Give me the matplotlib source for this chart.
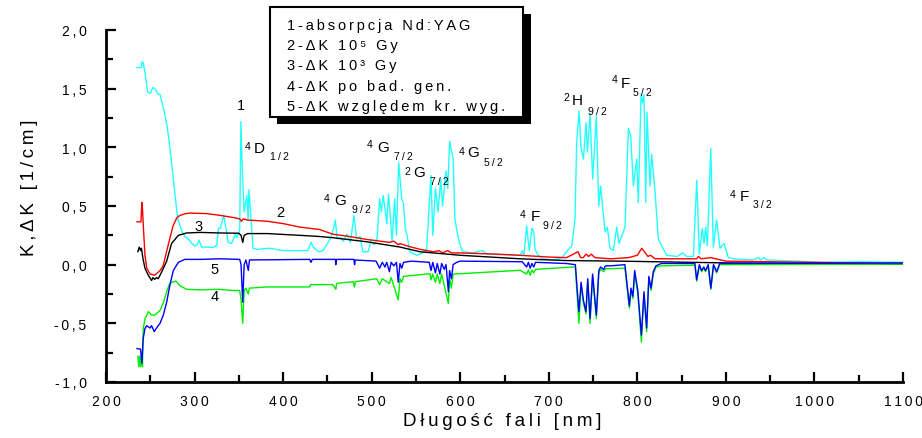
import matplotlib
matplotlib.use("Agg")
import matplotlib.pyplot as plt
from matplotlib.patches import Rectangle
from matplotlib.ticker import MultipleLocator, FuncFormatter

FONT = ["Liberation Sans", "DejaVu Sans"]
plt.rcParams["font.family"] = FONT

# ---- spectra: wavelength [nm] and coefficient [1/cm] ----
abs_nm = [235, 240, 240.6, 242, 244, 247, 250, 253, 255, 257, 259, 261, 265, 269, 271, 274.5,
          278, 281, 286, 289, 293, 297, 300, 303, 305, 308, 314, 320, 325, 327, 329, 333, 338,
          342, 346, 348, 351, 352.3, 353.5, 356, 359, 360.5, 361.5, 363.5, 366, 370, 385, 400,
          428, 431.5, 434, 440, 445, 451, 455, 459, 461, 465, 468, 472, 476, 480, 483, 487,
          490, 496, 499, 503, 506, 509, 511, 513, 516, 517, 519, 521, 523, 526, 528, 530.5,
          534, 536, 538, 540, 543, 551, 555, 562, 567, 569, 572, 575, 578, 580, 584, 586, 588,
          592, 594, 596, 600, 603, 614, 625, 630, 668, 670, 672, 675, 678, 681, 683, 684.5,
          688, 693, 705, 715, 720, 726, 729.6, 731.5, 734.2, 736.4, 739.1, 742.1, 743.6, 746.6,
          749.6, 753.7, 756.4, 758.6, 763.5, 766.1, 769.1, 772.9, 776.7, 779.3, 786.1, 789.9,
          792.5, 795.5, 799.3, 801.1, 804.2, 806, 807.5, 809.5, 810.9, 814.3, 816.2, 820,
          823.7, 827.5, 833.2, 845, 851.2, 855.7, 863.3, 867.1, 870, 873.4, 875.3, 877.2,
          879.1, 882.9, 885.8, 889.6, 893.4, 897.9, 902.8, 908.4, 930, 936.6, 939, 943, 946,
          980, 1006, 1050, 1100]
abs_val = [1.68, 1.68, 1.73, 1.72, 1.64, 1.47, 1.46, 1.51, 1.50, 1.48, 1.45, 1.45, 1.33, 1.18,
           1.07, 0.84, 0.59, 0.39, 0.28, 0.24, 0.22, 0.18, 0.16, 0.17, 0.21, 0.15, 0.15, 0.145,
           0.16, 0.31, 0.31, 0.42, 0.19, 0.18, 0.26, 0.23, 0.30, 1.22, 0.90, 0.45, 0.59, 0.39,
           0.64, 0.42, 0.14, 0.13, 0.14, 0.12, 0.12, 0.19, 0.15, 0.11, 0.12, 0.19, 0.25, 0.38,
           0.22, 0.23, 0.20, 0.26, 0.19, 0.42, 0.22, 0.24, 0.11, 0.11, 0.20, 0.17, 0.22, 0.56,
           0.45, 0.59, 0.42, 0.35, 0.60, 0.42, 0.20, 0.56, 0.25, 0.87, 0.56, 0.52, 0.30, 0.25,
           0.11, 0.08, 0.09, 0.12, 0.76, 0.25, 0.65, 0.45, 0.73, 0.50, 0.80, 0.65, 1.05, 0.90,
           0.39, 0.30, 0.16, 0.11, 0.10, 0.12, 0.09, 0.08, 0.12, 0.08, 0.33, 0.12, 0.31, 0.28,
           0.13, 0.08, 0.05, 0.04, 0.06, 0.11, 0.16, 0.39, 1.04, 1.31, 1.00, 0.90, 1.21, 0.96,
           1.28, 0.73, 1.27, 0.50, 0.67, 0.28, 0.32, 0.14, 0.12, 0.32, 0.18, 0.32, 1.16, 1.10,
           0.67, 0.90, 0.53, 1.45, 1.38, 1.45, 0.53, 1.30, 0.67, 0.94, 0.62, 0.22, 0.16, 0.08,
           0.07, 0.10, 0.07, 0.07, 0.72, 0.09, 0.31, 0.18, 0.32, 0.16, 0.99, 0.15, 0.38, 0.14,
           0.18, 0.06, 0.05, 0.04, 0.06, 0.04, 0.06, 0.04, 0.03, 0.02, 0.025, 0.02]

dk5_nm = [235, 239.5, 240.5, 241.3, 242, 244, 246, 249.7, 255, 258, 261, 264.5, 270, 275.7,
          280, 283.5, 290, 295, 314, 329, 345, 351, 353, 355, 360, 382, 400, 419, 441, 456,
          475, 494.5, 510, 520, 525, 530, 532, 540, 555, 570, 576, 580, 586, 590, 600, 640,
          667, 700, 720, 733, 736, 739, 742, 745, 748, 752, 770, 790, 800, 805, 808, 812, 815,
          820, 867, 869, 872, 883, 900, 1000, 1100]
dk5_val = [0.365, 0.365, 0.53, 0.46, 0.35, 0.08, -0.03, -0.08, -0.09, -0.07, -0.05, -0.01,
           0.16, 0.33, 0.40, 0.42, 0.435, 0.44, 0.435, 0.42, 0.40, 0.39, 0.37, 0.39, 0.38, 0.37,
           0.35, 0.32, 0.30, 0.26, 0.24, 0.215, 0.20, 0.19, 0.20, 0.17, 0.18, 0.16, 0.13, 0.11,
           0.12, 0.10, 0.12, 0.10, 0.10, 0.09, 0.08, 0.065, 0.06, 0.11, 0.06, 0.06, 0.09, 0.07,
           0.09, 0.06, 0.05, 0.06, 0.08, 0.14, 0.11, 0.07, 0.08, 0.05, 0.05, 0.07, 0.05, 0.06,
           0.03, 0.02, 0.01]

dk3_nm = [236, 237.5, 239, 240, 241.8, 244, 247.7, 251.5, 253, 255, 257, 259, 263, 268.5, 274,
          281.7, 291, 306, 329, 350, 352.5, 354.4, 356, 360, 382, 419, 441, 456, 494.5, 532,
          554.6, 600, 667.5, 720, 780, 900, 1100]
dk3_val = [0.11, 0.15, 0.12, 0.14, 0.05, -0.03, -0.09, -0.135, -0.11, -0.125, -0.11, -0.12,
           -0.06, 0.03, 0.18, 0.25, 0.27, 0.275, 0.27, 0.268, 0.25, 0.19, 0.25, 0.265, 0.265,
           0.25, 0.24, 0.23, 0.195, 0.15, 0.11, 0.08, 0.05, 0.035, 0.03, 0.015, 0.005]

gen_nm = [236, 237, 238, 239, 240.2, 241.2, 242, 244, 248, 251.5, 255, 258, 261, 265, 268.5,
          272, 276, 279, 283.6, 291, 306, 327, 343.6, 351, 352.5, 354.4, 356, 358, 360.7, 362,
          381.5, 430, 431, 456, 459.5, 460.5, 479, 480.7, 481.5, 505.7, 509, 512, 520, 522,
          530, 532, 534, 536, 565.9, 567, 569, 572, 574, 577, 579, 586.6, 588, 590, 592, 600,
          667.5, 675, 677, 679, 681, 683, 685, 727.7, 730, 734, 736.5, 739, 742, 744, 746.6,
          749.5, 753.7, 756.5, 758.5, 762, 764, 770, 786, 791, 792.8, 795, 797, 800.5, 804.6,
          807.5, 810.5, 813, 815.5, 818, 821, 827, 865, 867, 870, 872.5, 875, 877, 880, 883,
          886, 889.6, 893, 1100]
gen_val = [-0.78, -0.87, -0.78, -0.87, -0.78, -0.87, -0.55, -0.46, -0.40, -0.43, -0.43, -0.41,
           -0.39, -0.32, -0.23, -0.16, -0.145, -0.14, -0.18, -0.21, -0.215, -0.21, -0.22,
           -0.22, -0.30, -0.50, -0.22, -0.20, -0.25, -0.20, -0.19, -0.19, -0.17, -0.17, -0.21,
           -0.16, -0.145, -0.19, -0.145, -0.12, -0.17, -0.12, -0.16, -0.11, -0.30, -0.12, -0.15,
           -0.10, -0.077, -0.13, -0.08, -0.15, -0.08, -0.16, -0.08, -0.33, -0.12, -0.20, -0.08,
           -0.077, -0.048, -0.08, -0.045, -0.09, -0.045, -0.07, -0.04, -0.02, -0.02, -0.50,
           -0.17, -0.32, -0.42, -0.14, -0.50, -0.10, -0.46, -0.07, -0.04, -0.06, -0.035, -0.034,
           -0.03, -0.37, -0.22, -0.29, -0.07, -0.24, -0.66, -0.25, -0.57, -0.12, -0.22, -0.08,
           -0.02, -0.01, -0.005, -0.14, -0.01, -0.06, -0.03, -0.06, -0.01, -0.21, -0.01, -0.07,
           0.0, 0.005]

ref_nm = [235, 239, 240.5, 242, 244, 246, 249.7, 251.5, 254.5, 258, 261, 264.7, 268.5, 272,
          276, 281.7, 289, 306, 329, 351, 352.5, 354.4, 356, 358, 360.7, 362, 430, 431.5, 433,
          459, 459.5, 460.5, 480, 480.7, 481.5, 505, 509, 512, 515, 517, 520, 522, 525, 528,
          530, 532, 534, 536, 545, 565, 567, 569, 572, 574, 577, 579, 582, 584, 586.6, 588, 590,
          592, 596, 600, 670, 675, 677, 679, 681, 683, 685, 720, 730, 734, 736.5, 739, 742, 744,
          746.6, 749.5, 753.7, 756.5, 758.5, 762, 764, 770, 786, 791, 792.8, 795, 797, 800.5,
          804.6, 807.5, 810.5, 813, 815.5, 818, 821, 827, 865, 867, 870, 872.5, 875, 877, 880,
          883, 886, 889.6, 893, 1100]
ref_val = [-0.715, -0.72, -0.84, -0.63, -0.545, -0.52, -0.54, -0.52, -0.57, -0.53, -0.50, -0.43,
           -0.32, -0.18, -0.05, 0.02, 0.045, 0.045, 0.05, 0.045, 0.0, -0.32, 0.0, 0.04, -0.05,
           0.04, 0.045, 0.02, 0.045, 0.045, 0.0, 0.045, 0.045, 0.0, 0.04, 0.03, -0.03, 0.02,
           -0.02, 0.02, -0.06, 0.02, -0.01, 0.02, -0.15, 0.01, -0.03, 0.02, 0.03, 0.02, -0.05,
           0.02, -0.07, 0.01, -0.08, 0.01, -0.04, 0.0, -0.23, -0.05, -0.12, 0.0, 0.02, 0.03,
           0.025, -0.02, 0.02, -0.03, 0.01, -0.02, 0.02, 0.01, 0.0, -0.40, -0.15, -0.30, -0.40,
           -0.12, -0.46, -0.08, -0.43, -0.05, -0.02, -0.04, -0.01, -0.01, 0.0, -0.35, -0.20,
           -0.27, -0.05, -0.22, -0.60, -0.23, -0.54, -0.10, -0.20, -0.06, -0.01, 0.01, 0.01,
           -0.13, 0.0, -0.05, -0.02, -0.05, 0.0, -0.20, 0.0, -0.06, 0.01, 0.015]

x_ticks = [200, 300, 400, 500, 600, 700, 800, 900, 1000, 1100]
y_ticks = [-1.0, -0.5, 0.0, 0.5, 1.0, 1.5, 2.0]

legend_lines = ["1-absorpcja Nd:YAG", "2-ΔK 10⁵ Gy", "3-ΔK 10³ Gy",
                "4-ΔK po bad. gen.", "5-ΔK względem kr. wyg."]

# term labels: (superscript, letter, subscript, positions in data units)
terms = [
    ("4", "D", "1/2", (360.4, 1.01), (373.3, 0.995), (395.4, 0.927)),
    ("4", "G", "9/2", (449.6, 0.57), (464.3, 0.553), (488.0, 0.476)),
    ("4", "G", "7/2", (498.1, 1.03), (512.8, 1.003), (536.0, 0.927)),
    ("2", "G", "7/2", (539.9, 0.80), (554.0, 0.79), (576.0, 0.714)),
    ("4", "G", "5/2", (602.0, 0.97), (614.5, 0.96), (637.6, 0.876)),
    ("4", "F", "9/2", (670.9, 0.434), (684.5, 0.417), (704.2, 0.34)),
    ("2", "H", "9/2", (719.5, 1.43), (732.5, 1.40), (754.5, 1.31)),
    ("4", "F", "5/2", (774.8, 1.58), (786.1, 1.548), (805.9, 1.47)),
    ("4", "F", "3/2", (908.0, 0.60), (920.5, 0.587), (941.4, 0.52)),
]
curve_numbers = [("1", 352.5, 1.36), ("2", 396.5, 0.45), ("3", 305.0, 0.33),
                 ("5", 322.0, -0.034), ("4", 323.0, -0.27)]


def spaced(s, gap="\u2009"):
    return gap.join(s)


W, H = 922, 439
fig = plt.figure(figsize=(W / 100, H / 100), dpi=100)
ax = fig.add_axes([106 / W, 1 - 383 / H, 797 / W, 352 / H])

ax.plot(abs_nm, abs_val, color="#22ffff", lw=1.0, zorder=2)
ax.plot(dk5_nm, dk5_val, color="#ff0000", lw=1.0, zorder=3)
ax.plot(dk3_nm, dk3_val, color="#000000", lw=1.0, zorder=4)
ax.plot(gen_nm, gen_val, color="#00ee00", lw=1.0, zorder=5)
ax.plot(ref_nm, ref_val, color="#0000ff", lw=1.0, zorder=6)

ax.set_xlim(200, 1100)
ax.set_ylim(-1.0, 2.0)
ax.set_xticks(x_ticks)
ax.set_yticks(y_ticks)
ax.xaxis.set_minor_locator(MultipleLocator(50))
ax.yaxis.set_minor_locator(MultipleLocator(0.25))
ax.xaxis.set_major_formatter(FuncFormatter(lambda v, p: spaced(f"{v:.0f}")))
ax.yaxis.set_major_formatter(
    FuncFormatter(lambda v, p: spaced(f"{v:.1f}".replace(".", ",").replace("-0,0", "0,0"))))
for s in ("top", "right"):
    ax.spines[s].set_visible(False)
for s in ("left", "bottom"):
    ax.spines[s].set_linewidth(2.0)
ax.tick_params(which="both", direction="in", width=1.6, labelsize=10)
ax.tick_params(which="major", length=7)
ax.tick_params(which="minor", length=5)
ax.tick_params(axis="y", pad=14)
ax.tick_params(axis="x", pad=9)

fig.text(502 / W, 1 - 422 / H, spaced("Długość fali [nm]"), fontsize=13.5,
         ha="center", va="center")
fig.text(29 / W, 1 - 188 / H, spaced("K,ΔK [1/cm]"), fontsize=13.5,
         ha="center", va="center", rotation=90)

# curve numbers and term symbols
for txt, xv, yv in curve_numbers:
    ax.text(xv, yv, txt, fontsize=10.5, ha="center", va="center", zorder=8)
for sup, let, sub, psup, plet, psub in terms:
    ax.text(*psup, sup, fontsize=7.5, ha="center", va="center", zorder=8)
    ax.text(*plet, let, fontsize=11, ha="center", va="center", zorder=8)
    ax.text(*psub, spaced(sub), fontsize=7.5, ha="center", va="center", zorder=8)

# boxed legend with drop shadow (pixel geometry)
def px_rect(x0, y0, x1, y1, **kw):
    return Rectangle((x0 / W, 1 - y1 / H), (x1 - x0) / W, (y1 - y0) / H,
                     transform=fig.transFigure, **kw)

fig.add_artist(px_rect(277, 15, 531, 125, facecolor="black", edgecolor="none", zorder=10))
fig.add_artist(px_rect(270, 8, 523, 118, facecolor="white", edgecolor="black",
                       linewidth=1.5, zorder=11))
for i, line in enumerate(legend_lines):
    fig.text(287 / W, 1 - (30 + 20.2 * i) / H, spaced(line), fontsize=10.5,
             ha="left", va="baseline", zorder=12)

fig.savefig("out.png", dpi=100)
